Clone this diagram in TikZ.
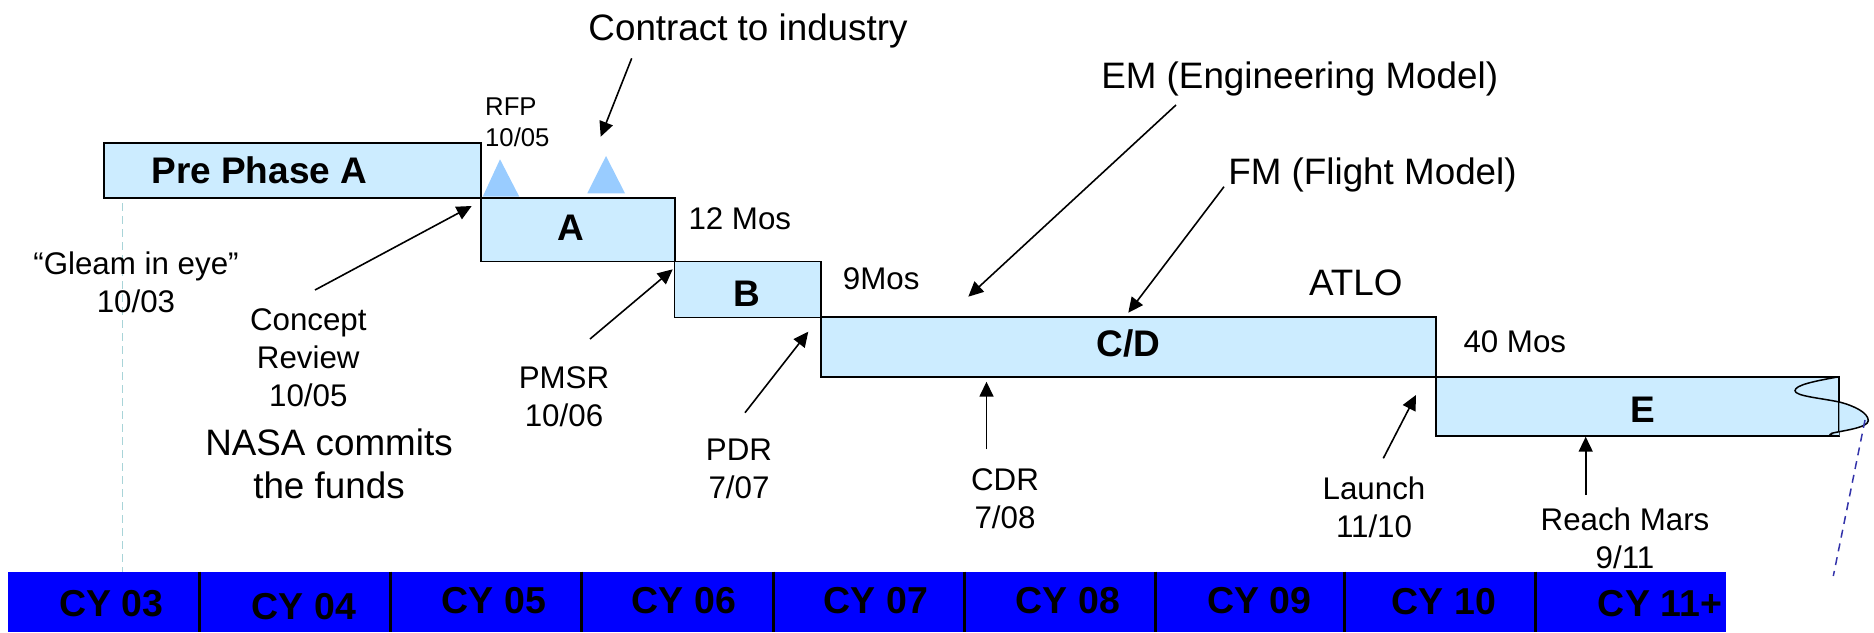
\documentclass[tikz,border=0pt]{standalone}
\usepackage{fontspec}
\setmainfont{Liberation Sans}
\usetikzlibrary{arrows.meta}
\definecolor{phasefill}{HTML}{CCECFF}
\definecolor{trifill}{HTML}{99CCFF}
\definecolor{barblue}{HTML}{0000FF}
\definecolor{gleamline}{HTML}{A8D4D8}
\definecolor{breakline}{HTML}{3333AA}
\newcommand{\stk}[1]{\begin{tabular}[t]{@{}c@{}}#1\end{tabular}}
\newcommand{\stl}[1]{\begin{tabular}[t]{@{}l@{}}#1\end{tabular}}
\begin{document}
\begin{tikzpicture}[x=1pt,y=-1pt,
  phase/.style={draw=black, line width=1.8pt, fill=phasefill, rectangle, inner sep=0pt},
  boldlbl/.style={font=\fontsize{37}{44}\selectfont\bfseries, inner sep=0pt, anchor=base},
  midlbl/.style={font=\fontsize{31.3}{38}\selectfont, inner sep=0pt, anchor=base},
  biglbl/.style={font=\fontsize{36.8}{43}\selectfont, inner sep=0pt, anchor=base},
  smalllbl/.style={font=\fontsize{25.7}{31.7}\selectfont, inner sep=0pt, anchor=base west},
  pointer/.style={draw=black, line width=1.6pt, -{Triangle[length=15pt,width=14pt]}},
  yearlbl/.style={font=\fontsize{37.5}{44}\selectfont\bfseries, inner sep=0pt, anchor=base},
]
\useasboundingbox (0,0) rectangle (1874,632);

% gleam dashed line
\draw[gleamline, line width=1.5pt, dash pattern=on 8pt off 5pt] (122.7,203) -- (122.7,571.7);

% phase boxes
\node[phase, minimum width=377.1pt, minimum height=55pt] (pre) at (292.15,170.8) {};
\node[phase, minimum width=194.3pt, minimum height=63.2pt] (pa) at (577.85,229.9) {};
\node[phase, minimum width=146.5pt, minimum height=56pt] (pb) at (747.75,289.5) {};
\node[phase, minimum width=615pt, minimum height=59.4pt] (pcd) at (1128.5,347) {};
\node[phase, minimum width=403.3pt, minimum height=59.3pt] (pe) at (1637.65,406.35) {};

% break wave at right end of E
\fill[phasefill] (1839.3,402) .. controls (1855,406) and (1868.3,413) .. (1868.3,420.7)
   .. controls (1868.3,428) and (1840,431) .. (1831.7,433.3)
   .. controls (1828,435) and (1832,436) .. (1839.3,436) -- cycle;
\draw[black, line width=1.5pt] (1839.3,376.7) .. controls (1815,381) and (1795,385) .. (1795,390.7)
   .. controls (1795,396) and (1820,398) .. (1839.3,402)
   .. controls (1855,406) and (1868.3,413) .. (1868.3,420.7)
   .. controls (1868.3,428) and (1840,431) .. (1831.7,433.3)
   .. controls (1828,435) and (1832,436) .. (1839.3,436);
\draw[breakline, line width=1.5pt, dash pattern=on 8pt off 6pt] (1865,420) -- (1833.3,576);

% box labels
\node[boldlbl] (tpre) at (259.4,183.3) {Pre Phase A};
\node[boldlbl] (ta) at (571,240) {A};
\node[boldlbl] (tb) at (747.3,306.7) {B};
\node[boldlbl] (tcd) at (1128.3,356.7) {C/D};
\node[boldlbl] (te) at (1643.3,422.7) {E};

% milestone triangles
\fill[trifill] (482.7,196.7) -- (500,159.3) -- (519.3,196.7) -- cycle;
\fill[trifill] (587.3,193.3) -- (606,156) -- (625,193.3) -- cycle;

% labels
\node[biglbl] (contract) at (748,40) {Contract to industry};
\node[smalllbl] (rfp) at (485,115) {\stl{RFP\\10/05}};
\node[biglbl] (em) at (1299.7,88.3) {EM (Engineering Model)};
\node[biglbl] (fm) at (1372.5,184) {FM (Flight Model)};
\node[biglbl] (atlo) at (1355.8,295) {ATLO};
\node[midlbl, anchor=base west] (m12) at (688.3,229.3) {12 Mos};
\node[midlbl, anchor=base west] (m9) at (842.7,289) {9Mos};
\node[midlbl, anchor=base west] (m40) at (1463.3,352.3) {40 Mos};
\node[midlbl] (gleam) at (136,274) {\stk{“Gleam in eye”\\10/03}};
\node[midlbl] (concept) at (308.3,330.7) {\stk{Concept\\Review\\10/05}};
\node[biglbl] (nasa) at (329,455) {\stk{NASA commits\\the funds}};
\node[midlbl] (pmsr) at (564,388.3) {\stk{PMSR\\10/06}};
\node[midlbl] (pdr) at (739,460.7) {\stk{PDR\\7/07}};
\node[midlbl] (cdr) at (1005,490) {\stk{CDR\\7/08}};
\node[midlbl] (launch) at (1374,499.3) {\stk{Launch\\11/10}};
\node[midlbl] (mars) at (1625,530) {\stk{Reach Mars\\9/11}};

% pointer arrows
\coordinate (c1) at (631.7,58.3);   \coordinate (c1h) at (600.7,136.7);
\coordinate (c2) at (315,290);      \coordinate (c2h) at (471.7,206);
\coordinate (c3) at (590,339);      \coordinate (c3h) at (672.7,269.3);
\coordinate (c4) at (745,412.7);    \coordinate (c4h) at (808.3,331.7);
\coordinate (c5) at (1176,105);     \coordinate (c5h) at (968.3,296.7);
\coordinate (c6) at (1224,186.7);   \coordinate (c6h) at (1128.3,312.7);
\coordinate (c7) at (986.5,449.3);  \coordinate (c7h) at (986.5,381.7);
\coordinate (c8) at (1383.3,458.3); \coordinate (c8h) at (1416,395);
\coordinate (c9) at (1585.7,495);   \coordinate (c9h) at (1585.7,436.7);
\draw[pointer] (c1) -- (c1h);
\draw[pointer] (c2) -- (c2h);
\draw[pointer] (c3) -- (c3h);
\draw[pointer] (c4) -- (c4h);
\draw[pointer] (c5) -- (c5h);
\draw[pointer] (c6) -- (c6h);
\draw[pointer] (c7) -- (c7h);
\draw[pointer] (c8) -- (c8h);
\draw[pointer] (c9) -- (c9h);

% year bar
\fill[barblue] (7.7,571.7) rectangle (1725.5,632);
\foreach \x in {199,390.3,581.6,773.6,964.5,1155,1344.8,1535.7}
  \draw[black, line width=3pt] (\x,571.7) -- (\x,632);
\node[yearlbl] (y03) at (111.6,616) {CY 03};
\node[yearlbl] (y04) at (304,619.3) {CY 04};
\node[yearlbl] (y05) at (494,613) {CY 05};
\node[yearlbl] (y06) at (684,613) {CY 06};
\node[yearlbl] (y07) at (876,613.7) {CY 07};
\node[yearlbl] (y08) at (1068,613) {CY 08};
\node[yearlbl] (y09) at (1259.3,613) {CY 09};
\node[yearlbl] (y10) at (1444,614) {CY 10};
\node[yearlbl] (y11) at (1660,616.7) {CY 11+};
\end{tikzpicture}
\end{document}
